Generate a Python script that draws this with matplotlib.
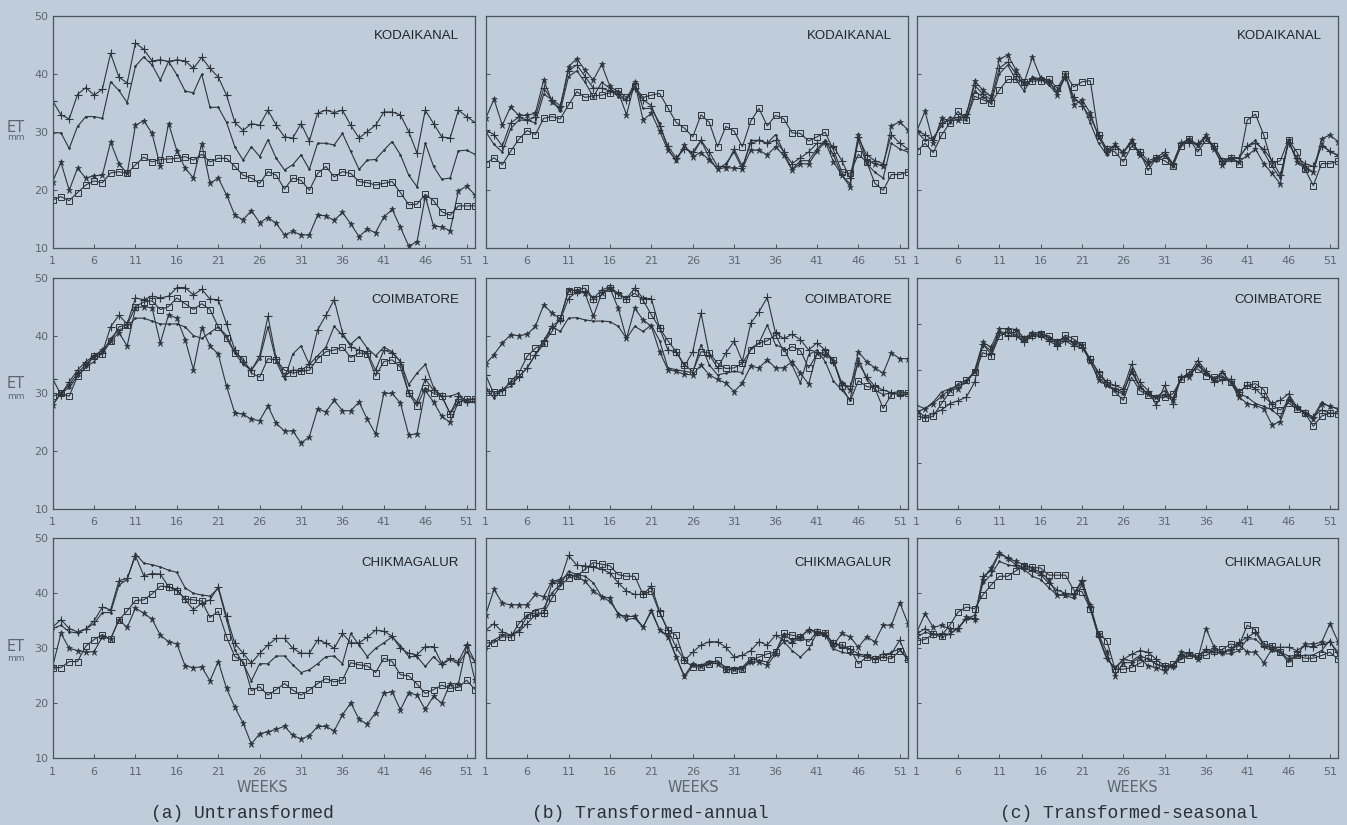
import numpy as np
import matplotlib
matplotlib.use("Agg")
import matplotlib.pyplot as plt

# weekly ET (mm)
weeks = np.arange(1, 53)
week_ticks = [1, 6, 11, 16, 21, 26, 31, 36, 41, 46, 51]

stations = ["KODAIKANAL", "COIMBATORE", "CHIKMAGALUR"]
captions = ["(a) Untransformed", "(b) Transformed-annual", "(c) Transformed-seasonal"]

# ---- Kodaikanal
KOD_A_PLUS = [35.3, 32.9, 32.2, 36.4, 37.6, 36.3, 37.3, 43.5, 39.4, 38.4, 45.3, 44.2, 42.2, 42.4, 42.1, 42.4, 42.2, 40.9, 42.8, 40.9, 39.4, 36.3, 31.6, 30.2, 31.4, 31.1, 33.7, 31.1, 29.1, 28.9, 31.4, 28.4, 33.2, 33.7, 33.3, 33.7, 31.1, 28.9, 30.0, 31.1, 33.4, 33.4, 32.9, 30.0, 26.3, 33.7, 31.4, 29.1, 28.9, 33.7, 32.6, 31.6]
KOD_A_PLAIN = [29.8, 29.8, 27.1, 30.9, 32.6, 32.6, 32.3, 38.6, 37.1, 35.0, 41.3, 42.9, 41.5, 38.9, 42.1, 39.8, 37.0, 36.7, 39.9, 34.2, 34.2, 31.6, 27.4, 25.1, 27.4, 25.7, 28.6, 25.4, 23.4, 24.3, 26.0, 23.5, 28.0, 28.0, 27.7, 29.7, 26.6, 23.5, 25.1, 25.2, 26.8, 28.3, 26.0, 22.5, 20.5, 28.0, 24.0, 21.8, 22.0, 26.7, 26.8, 26.1]
KOD_A_SQ = [18.2, 18.8, 18.1, 19.5, 20.8, 21.5, 21.2, 22.9, 23.1, 22.8, 24.3, 25.6, 24.8, 25.2, 25.3, 25.4, 25.7, 25.1, 26.1, 24.8, 25.4, 25.4, 24.0, 22.5, 22.0, 21.1, 23.1, 22.5, 20.1, 22.0, 21.6, 19.9, 22.8, 24.0, 22.2, 23.1, 22.8, 21.4, 21.2, 20.8, 21.1, 21.4, 19.5, 17.4, 17.5, 19.2, 18.1, 16.2, 15.6, 17.2, 17.2, 17.2]
KOD_A_AST = [21.4, 24.7, 19.9, 23.7, 22.0, 22.4, 22.5, 28.2, 24.5, 22.8, 31.1, 31.9, 29.7, 24.0, 31.4, 26.7, 23.7, 22.0, 27.9, 21.1, 22.0, 19.1, 15.6, 14.8, 16.4, 14.3, 15.2, 14.2, 12.2, 12.8, 12.2, 12.2, 15.6, 15.5, 14.7, 16.1, 14.1, 11.9, 13.2, 12.6, 15.3, 16.6, 13.5, 10.3, 11.0, 18.8, 13.7, 13.6, 12.9, 19.8, 20.6, 19.1]

KOD_B_PLUS = [30.3, 29.5, 27.5, 31.5, 32.5, 32.0, 32.5, 37.5, 35.5, 34.5, 40.5, 41.5, 39.5, 37.5, 37.5, 37.0, 36.5, 35.5, 37.5, 35.5, 34.5, 31.0, 27.5, 25.5, 27.0, 26.5, 28.5, 26.5, 24.0, 24.0, 27.0, 24.0, 28.0, 28.5, 28.0, 28.5, 26.5, 24.5, 25.5, 26.5, 28.0, 28.0, 27.5, 25.0, 22.0, 29.0, 26.0, 25.0, 24.5, 29.5, 28.0, 27.0]
KOD_B_PLAIN = [30.0, 27.8, 26.5, 30.5, 32.0, 32.0, 31.5, 36.5, 35.5, 33.5, 39.5, 40.5, 38.5, 36.0, 38.5, 37.5, 36.0, 35.5, 38.5, 34.0, 34.0, 31.5, 27.0, 25.0, 27.5, 26.0, 28.5, 25.5, 23.5, 24.5, 26.5, 23.5, 28.5, 28.5, 28.0, 29.5, 26.5, 23.5, 25.0, 25.0, 27.0, 28.5, 26.0, 22.5, 21.0, 28.5, 24.5, 23.0, 22.0, 28.0, 27.0, 26.5]
KOD_B_SQ = [24.5, 25.5, 24.3, 26.6, 28.7, 30.2, 29.5, 32.3, 32.6, 32.2, 34.6, 36.9, 35.9, 36.2, 36.3, 36.7, 37.0, 35.9, 37.8, 35.9, 36.3, 36.6, 34.1, 31.6, 30.6, 29.1, 32.9, 31.6, 27.4, 30.9, 30.1, 27.4, 31.8, 34.0, 31.0, 32.8, 32.2, 29.8, 29.7, 28.4, 29.1, 29.9, 26.8, 23.1, 22.8, 26.1, 24.8, 21.1, 19.9, 22.6, 22.6, 23.1]
KOD_B_AST = [32.3, 35.6, 31.1, 34.3, 32.8, 32.8, 33.2, 38.9, 35.2, 34.0, 41.2, 42.6, 40.6, 38.9, 41.6, 37.8, 36.9, 32.9, 38.5, 32.0, 33.2, 30.1, 26.8, 25.1, 27.7, 25.7, 26.4, 25.1, 23.6, 23.8, 23.7, 23.6, 26.8, 26.8, 26.0, 27.4, 25.9, 23.4, 24.5, 24.4, 26.6, 28.3, 24.8, 22.5, 20.5, 29.5, 25.0, 24.5, 24.0, 31.0, 31.7, 30.3]

KOD_C_PLUS = [30.1, 29.5, 28.5, 31.5, 32.0, 32.5, 33.0, 38.0, 36.5, 35.5, 41.0, 42.0, 40.0, 38.0, 39.0, 39.0, 38.5, 37.0, 39.5, 36.0, 34.5, 32.5, 29.5, 27.0, 27.5, 26.5, 28.0, 26.5, 25.0, 25.5, 26.5, 24.5, 28.0, 28.0, 28.0, 29.0, 27.5, 25.0, 25.5, 25.5, 27.5, 28.0, 27.0, 25.0, 22.5, 28.0, 25.5, 24.5, 24.0, 27.5, 26.7, 25.8]
KOD_C_PLAIN = [30.0, 28.5, 29.0, 31.0, 32.5, 32.0, 32.0, 37.0, 36.0, 35.0, 40.0, 41.5, 39.0, 37.0, 39.5, 39.0, 38.0, 36.5, 39.5, 35.5, 35.0, 31.5, 28.0, 26.0, 27.5, 26.5, 28.5, 26.0, 24.5, 25.0, 26.0, 24.5, 28.0, 28.5, 27.5, 29.0, 27.0, 24.5, 25.5, 25.5, 27.5, 28.5, 26.5, 24.0, 22.0, 28.5, 25.0, 24.0, 23.0, 28.0, 26.5, 26.0]
KOD_C_SQ = [26.6, 28.0, 26.4, 29.4, 31.5, 33.5, 32.0, 36.1, 35.5, 34.9, 37.2, 39.0, 39.0, 38.5, 38.7, 38.8, 39.0, 37.5, 39.9, 37.7, 38.6, 38.8, 29.4, 27.0, 26.5, 24.8, 27.5, 26.5, 23.3, 25.5, 25.0, 24.0, 27.5, 28.8, 26.5, 28.5, 27.5, 25.0, 25.5, 24.5, 32.0, 33.0, 29.4, 24.5, 25.0, 28.6, 26.5, 23.5, 20.7, 24.5, 24.5, 24.9]
KOD_C_AST = [30.1, 33.5, 28.0, 32.3, 31.9, 32.0, 32.8, 38.7, 37.2, 36.1, 42.5, 43.2, 40.7, 38.5, 42.8, 39.3, 38.8, 36.4, 39.9, 34.6, 35.5, 33.2, 29.1, 26.5, 27.8, 26.2, 28.6, 25.9, 24.5, 25.4, 25.9, 24.2, 28.0, 28.8, 27.7, 29.4, 27.0, 24.2, 25.4, 24.8, 25.9, 27.0, 24.5, 22.8, 21.0, 28.6, 24.8, 23.6, 23.0, 28.8, 29.4, 28.3]

# ---- Coimbatore
COI_A_PLUS = [32.5, 29.8, 32.0, 34.0, 35.5, 36.5, 37.0, 41.5, 43.5, 42.0, 46.5, 46.2, 46.8, 46.5, 46.8, 48.3, 48.3, 47.0, 48.0, 46.3, 46.2, 42.0, 37.5, 35.5, 34.0, 36.5, 43.3, 36.0, 33.0, 34.0, 34.0, 35.0, 41.0, 43.5, 46.2, 40.5, 38.0, 37.5, 37.0, 34.0, 37.5, 37.0, 35.5, 30.0, 28.5, 32.5, 30.5, 29.5, 26.5, 29.5, 28.5, 28.5]
COI_A_PLAIN = [28.0, 30.0, 31.0, 33.0, 34.5, 35.5, 37.0, 39.5, 41.0, 41.5, 43.0, 43.0, 42.5, 42.0, 42.0, 42.0, 41.5, 40.0, 39.5, 40.5, 41.5, 40.0, 37.0, 35.0, 34.0, 36.0, 41.5, 35.5, 32.5, 36.8, 38.2, 35.0, 36.5, 38.0, 41.6, 40.0, 38.5, 39.8, 37.8, 36.5, 38.0, 37.2, 35.5, 31.5, 33.5, 35.0, 31.0, 29.5, 29.5, 30.0, 28.5, 28.5]
COI_A_SQ = [29.5, 30.0, 29.5, 33.0, 34.5, 36.5, 36.8, 39.0, 41.5, 41.8, 45.0, 45.8, 46.0, 44.5, 45.0, 46.5, 45.5, 44.5, 45.5, 44.5, 41.5, 39.5, 37.0, 36.0, 33.5, 32.8, 36.0, 35.8, 34.0, 33.5, 33.8, 34.0, 36.0, 37.2, 37.5, 38.0, 36.2, 37.0, 36.8, 33.0, 35.5, 35.8, 34.5, 30.0, 27.8, 31.0, 30.0, 29.5, 26.5, 28.5, 29.0, 29.0]
COI_A_AST = [28.0, 30.0, 31.5, 33.5, 35.0, 36.5, 37.5, 39.0, 40.5, 38.2, 44.8, 45.0, 44.8, 38.7, 43.6, 43.0, 39.3, 34.1, 41.3, 38.2, 36.8, 31.2, 26.6, 26.4, 25.5, 25.3, 27.8, 24.8, 23.5, 23.5, 21.4, 22.5, 27.3, 26.8, 28.8, 27.0, 27.0, 28.5, 25.5, 23.0, 30.0, 30.0, 28.3, 22.8, 23.0, 30.5, 28.5, 26.0, 25.0, 28.5, 28.8, 29.0]

COI_B_PLUS = [33.2, 29.8, 30.6, 31.8, 32.9, 34.4, 36.7, 39.1, 41.6, 42.7, 46.4, 47.6, 47.6, 46.4, 47.9, 48.4, 47.3, 46.4, 48.2, 46.4, 46.4, 41.3, 37.5, 37.2, 34.7, 37.2, 43.9, 36.7, 34.4, 37.0, 39.0, 35.5, 42.1, 44.1, 46.6, 40.4, 39.5, 40.2, 39.3, 37.5, 38.7, 37.5, 35.5, 31.5, 31.2, 35.2, 32.9, 31.2, 30.6, 30.1, 29.8, 29.9]
COI_B_PLAIN = [30.9, 29.2, 30.6, 31.2, 32.9, 34.4, 36.7, 38.5, 41.6, 40.7, 43.0, 43.1, 42.7, 42.5, 42.5, 42.4, 41.6, 39.5, 41.6, 40.7, 41.8, 39.1, 34.4, 34.1, 33.8, 33.6, 38.4, 34.9, 33.2, 33.5, 33.8, 33.6, 37.8, 38.7, 41.8, 38.4, 37.8, 34.9, 31.8, 36.7, 37.5, 35.5, 32.1, 30.6, 28.9, 36.1, 32.4, 30.6, 29.8, 30.1, 30.3, 30.1]
COI_B_SQ = [30.3, 30.3, 30.3, 32.1, 33.5, 36.4, 37.8, 38.7, 40.7, 43.0, 47.7, 47.9, 48.2, 46.4, 47.0, 48.2, 47.0, 46.4, 47.3, 46.1, 43.6, 41.3, 39.1, 37.2, 34.9, 33.8, 37.2, 37.0, 35.2, 34.3, 34.4, 35.2, 37.5, 38.7, 39.1, 40.1, 37.2, 38.1, 37.4, 34.4, 36.7, 37.2, 35.8, 31.2, 28.6, 32.2, 31.2, 30.9, 27.4, 29.8, 30.1, 30.1]
COI_B_AST = [35.1, 36.7, 38.7, 40.1, 40.0, 40.2, 41.6, 45.3, 43.9, 42.9, 47.9, 47.7, 47.3, 43.3, 47.3, 48.2, 44.7, 39.5, 44.7, 42.7, 41.6, 37.2, 34.1, 33.8, 33.3, 33.2, 34.9, 33.2, 32.4, 31.8, 30.3, 31.8, 34.7, 34.4, 35.8, 34.4, 34.4, 35.5, 33.5, 31.6, 37.0, 36.7, 35.6, 31.8, 30.6, 37.2, 35.5, 34.4, 33.5, 37.0, 36.0, 36.0]

# panel (c) Coimbatore is drawn on a 0-50 axis
COI_C_PLUS = [21.4, 19.9, 20.7, 21.4, 22.8, 23.4, 24.2, 27.4, 35.6, 33.5, 38.1, 37.4, 37.4, 36.0, 37.4, 37.4, 36.3, 35.3, 36.3, 35.3, 34.8, 32.4, 29.6, 27.4, 26.7, 26.0, 31.3, 27.4, 25.6, 22.4, 26.7, 22.8, 28.5, 29.2, 32.1, 29.9, 27.4, 27.8, 28.1, 25.3, 26.7, 26.0, 24.2, 22.8, 23.5, 24.9, 22.1, 20.7, 19.9, 21.4, 20.7, 20.7]
COI_C_PLAIN = [22.4, 21.7, 23.1, 25.3, 26.0, 26.7, 27.4, 29.6, 35.6, 34.2, 38.3, 38.1, 37.6, 36.3, 37.7, 37.6, 37.0, 35.6, 37.0, 35.6, 35.3, 31.7, 28.5, 26.7, 25.6, 24.9, 30.3, 26.4, 24.9, 24.2, 25.6, 23.9, 28.5, 28.8, 31.3, 29.2, 28.1, 28.5, 27.4, 24.9, 24.2, 22.8, 22.2, 21.4, 19.9, 24.2, 21.7, 20.8, 19.9, 23.1, 22.1, 21.7]
COI_C_SQ = [20.1, 19.6, 20.1, 22.8, 25.3, 27.1, 27.8, 29.6, 33.8, 33.1, 37.4, 38.3, 38.1, 36.7, 37.7, 37.9, 37.4, 36.0, 37.6, 36.7, 35.5, 32.4, 29.2, 27.2, 25.3, 23.5, 28.5, 25.6, 24.6, 23.9, 24.2, 24.9, 28.1, 29.6, 30.3, 28.8, 28.5, 28.8, 27.4, 25.3, 26.7, 27.1, 25.8, 22.4, 21.4, 22.9, 21.7, 20.7, 17.9, 20.1, 20.7, 20.6]
COI_C_AST = [21.0, 21.7, 22.8, 24.4, 25.8, 26.0, 27.6, 29.9, 36.0, 35.0, 39.0, 39.0, 38.8, 37.0, 38.1, 38.1, 37.0, 36.3, 37.0, 36.0, 35.5, 32.1, 27.8, 26.7, 26.0, 25.3, 29.6, 26.4, 24.9, 24.2, 24.6, 23.5, 28.5, 28.5, 31.2, 29.6, 28.1, 29.6, 27.4, 24.2, 22.8, 22.4, 21.7, 18.2, 18.9, 23.6, 22.1, 20.7, 19.4, 22.8, 22.2, 21.7]

# ---- Chikmagalur
CHI_A_PLUS = [33.9, 35.2, 33.6, 33.0, 33.5, 35.0, 37.5, 37.0, 42.3, 42.7, 46.8, 43.2, 43.6, 43.5, 41.2, 40.6, 38.9, 37.0, 38.2, 38.8, 41.2, 35.8, 30.9, 29.1, 27.3, 29.1, 30.6, 31.8, 31.8, 30.0, 29.1, 29.1, 31.5, 31.0, 30.0, 32.7, 31.0, 31.0, 32.0, 33.3, 33.1, 32.2, 30.0, 29.1, 28.8, 30.3, 30.3, 27.2, 28.2, 27.6, 30.6, 27.6]
CHI_A_PLAIN = [33.6, 34.2, 33.0, 32.8, 33.5, 34.5, 36.5, 36.5, 41.5, 42.5, 47.2, 45.5, 45.2, 44.8, 44.2, 43.8, 41.0, 40.0, 39.7, 39.5, 40.9, 35.2, 29.7, 27.3, 24.1, 27.2, 27.2, 28.6, 28.6, 27.0, 25.6, 26.1, 27.2, 28.5, 28.6, 27.2, 32.7, 30.6, 28.5, 30.0, 31.0, 32.1, 30.5, 28.5, 28.5, 26.7, 28.5, 27.0, 28.0, 27.2, 29.4, 27.6]
CHI_A_SQ = [26.5, 26.5, 27.6, 27.6, 30.4, 31.6, 32.5, 31.7, 35.2, 36.8, 38.7, 38.8, 39.9, 41.3, 41.2, 40.5, 39.0, 38.8, 38.6, 35.6, 36.7, 32.1, 28.5, 27.6, 22.3, 23.0, 21.5, 22.5, 23.6, 22.4, 21.5, 22.4, 23.6, 24.5, 23.9, 24.2, 27.4, 27.0, 26.8, 25.6, 28.2, 27.6, 25.2, 25.0, 23.5, 21.8, 22.5, 23.3, 22.7, 22.9, 24.2, 22.5]
CHI_A_AST = [26.7, 32.7, 30.0, 29.6, 29.3, 29.4, 32.1, 31.7, 35.2, 33.8, 37.3, 36.4, 35.3, 32.4, 31.2, 30.8, 26.8, 26.5, 26.6, 24.1, 27.6, 22.7, 19.3, 16.4, 12.6, 14.5, 14.8, 15.3, 15.8, 14.2, 13.5, 14.1, 15.8, 15.8, 15.0, 17.9, 20.1, 17.1, 16.2, 18.3, 21.8, 22.1, 18.8, 21.9, 21.5, 18.9, 21.3, 20.0, 23.6, 23.5, 30.6, 24.2]

CHI_B_PLUS = [33.3, 34.5, 33.0, 32.4, 33.0, 34.5, 36.1, 36.4, 41.9, 42.2, 46.9, 45.1, 45.0, 44.7, 44.4, 43.7, 41.9, 40.4, 39.8, 39.8, 41.3, 36.7, 33.3, 30.2, 27.8, 29.3, 30.6, 31.2, 31.2, 30.2, 28.4, 28.7, 29.6, 31.2, 30.6, 32.4, 31.5, 30.9, 32.1, 33.4, 33.0, 32.4, 30.9, 30.2, 29.9, 29.0, 28.7, 28.1, 29.0, 29.0, 31.5, 27.8]
CHI_B_PLAIN = [29.9, 31.5, 32.4, 32.4, 33.3, 35.8, 37.0, 37.3, 40.1, 41.6, 44.0, 43.4, 43.1, 41.9, 39.4, 38.5, 36.4, 35.2, 35.5, 33.8, 37.0, 33.3, 32.4, 28.4, 24.7, 26.9, 26.9, 27.7, 27.5, 26.6, 26.3, 26.6, 28.1, 27.8, 27.5, 29.6, 31.2, 29.6, 28.4, 29.9, 32.8, 32.4, 29.9, 29.3, 29.0, 28.7, 28.4, 28.1, 28.4, 29.3, 29.9, 27.8]
CHI_B_SQ = [31.0, 31.0, 32.1, 32.0, 34.5, 36.1, 36.4, 36.4, 39.1, 41.3, 42.8, 43.1, 44.4, 45.6, 45.3, 45.0, 43.4, 43.1, 43.1, 39.8, 40.4, 36.4, 33.3, 32.4, 27.8, 26.6, 26.6, 27.2, 27.8, 26.3, 26.0, 26.3, 27.8, 28.4, 29.0, 29.3, 32.7, 32.4, 32.1, 31.2, 33.0, 32.7, 30.9, 30.6, 29.9, 27.2, 28.4, 28.1, 28.4, 28.1, 29.6, 28.1]
CHI_B_AST = [36.1, 40.7, 38.2, 37.9, 37.9, 37.9, 39.8, 39.4, 42.2, 42.5, 43.4, 43.1, 42.2, 40.4, 39.4, 39.1, 36.1, 35.8, 35.8, 33.9, 36.7, 33.3, 32.1, 28.4, 25.0, 27.2, 26.7, 27.3, 27.2, 26.0, 26.3, 26.3, 27.5, 27.5, 26.9, 29.0, 32.4, 31.5, 32.1, 33.3, 33.0, 32.7, 30.6, 32.7, 32.1, 30.2, 32.1, 31.2, 34.2, 34.2, 38.3, 34.5]

CHI_C_PLUS = [32.6, 33.6, 32.6, 32.6, 32.6, 33.7, 35.4, 35.4, 43.1, 44.1, 47.2, 46.4, 45.2, 44.6, 44.0, 43.4, 41.8, 40.6, 40.0, 39.8, 42.5, 37.5, 32.3, 28.3, 26.2, 28.0, 28.9, 29.6, 29.3, 28.0, 26.8, 26.8, 28.7, 29.3, 28.5, 29.9, 29.3, 29.3, 29.9, 31.1, 32.0, 32.9, 30.5, 30.2, 30.2, 30.2, 29.6, 30.5, 30.2, 30.8, 31.1, 29.3]
CHI_C_PLAIN = [32.0, 32.9, 32.6, 32.0, 32.6, 33.6, 35.4, 36.0, 41.8, 43.4, 45.8, 45.2, 44.9, 44.3, 43.1, 42.5, 41.0, 39.7, 39.6, 39.1, 41.5, 37.2, 32.0, 28.0, 26.5, 28.0, 27.7, 28.7, 28.0, 27.1, 26.5, 26.8, 28.3, 28.7, 28.3, 29.6, 29.3, 29.0, 29.0, 29.6, 31.7, 31.7, 30.2, 29.6, 29.3, 28.6, 28.7, 28.7, 28.8, 29.6, 31.4, 28.7]
CHI_C_SQ = [31.4, 31.6, 32.6, 32.3, 34.2, 36.6, 37.5, 37.2, 39.7, 41.5, 43.1, 43.1, 44.1, 44.9, 44.7, 44.6, 43.3, 43.3, 43.3, 40.6, 40.3, 37.2, 32.6, 31.4, 26.2, 26.2, 26.5, 27.3, 28.3, 27.1, 26.8, 27.1, 28.0, 28.7, 28.6, 28.7, 29.6, 29.8, 30.8, 30.5, 34.2, 33.3, 30.8, 30.5, 29.4, 27.4, 28.7, 28.2, 28.2, 28.7, 29.3, 28.0]
CHI_C_AST = [32.9, 36.3, 33.8, 34.2, 33.5, 33.5, 35.7, 35.4, 42.5, 44.6, 47.4, 46.4, 45.8, 45.2, 44.6, 43.7, 42.5, 39.7, 39.7, 39.7, 42.1, 37.9, 32.6, 29.3, 25.0, 27.4, 27.4, 28.3, 26.8, 26.5, 25.9, 26.8, 29.3, 29.0, 28.0, 33.6, 30.2, 29.3, 29.6, 30.8, 29.3, 29.3, 27.4, 29.9, 29.3, 28.0, 28.7, 30.8, 30.8, 31.1, 34.5, 31.2]

panels = [
    [(KOD_A_PLUS, KOD_A_PLAIN, KOD_A_SQ, KOD_A_AST),
     (KOD_B_PLUS, KOD_B_PLAIN, KOD_B_SQ, KOD_B_AST),
     (KOD_C_PLUS, KOD_C_PLAIN, KOD_C_SQ, KOD_C_AST)],
    [(COI_A_PLUS, COI_A_PLAIN, COI_A_SQ, COI_A_AST),
     (COI_B_PLUS, COI_B_PLAIN, COI_B_SQ, COI_B_AST),
     (COI_C_PLUS, COI_C_PLAIN, COI_C_SQ, COI_C_AST)],
    [(CHI_A_PLUS, CHI_A_PLAIN, CHI_A_SQ, CHI_A_AST),
     (CHI_B_PLUS, CHI_B_PLAIN, CHI_B_SQ, CHI_B_AST),
     (CHI_C_PLUS, CHI_C_PLAIN, CHI_C_SQ, CHI_C_AST)],
]

BG = "#bfcdda"
INK = "#2e343b"
GREY = "#5b6670"

series_styles = [
    dict(marker="+", ms=6, mew=0.8),
    dict(marker=".", ms=2.5),
    dict(marker="s", ms=4.2, mfc="none", mew=0.7),
    dict(marker="*", ms=5, mew=0.4),
]

lefts = [0.0391, 0.3606, 0.6806]
widths = [0.3135, 0.3135, 0.3128]
bottoms = [0.6998, 0.3830, 0.0808]
heights = [0.2812, 0.2804, 0.2667]
name_y = [0.912, 0.903, 0.889]
et_y = [(0.52, 0.477), (0.544, 0.486), (0.51, 0.456)]

fig = plt.figure(figsize=(13.47, 8.25), dpi=100, facecolor=BG)

for r in range(3):
    for c in range(3):
        ax = fig.add_axes([lefts[c], bottoms[r], widths[c], heights[r]])
        ax.set_facecolor(BG)
        for vals, st in zip(panels[r][c], series_styles):
            ax.plot(weeks, vals, color=INK, lw=0.8, mec=INK, mfc=st.get("mfc", INK),
                    marker=st["marker"], ms=st["ms"], mew=st.get("mew", 0.6))
        ax.set_xlim(1, 52)
        if r == 1 and c == 2:
            ax.set_ylim(0, 50)
            ax.set_yticks([10, 20, 30, 40])
        else:
            ax.set_ylim(10, 50)
            ax.set_yticks([10, 20, 30, 40, 50])
        ax.set_xticks(week_ticks)
        ax.tick_params(direction="in", length=3, width=0.7, color="#4a525a",
                       labelsize=8, labelcolor=GREY)
        ax.tick_params(axis="x", pad=6)
        ax.tick_params(axis="y", pad=3)
        if c != 0:
            ax.set_yticklabels([])
        for sp in ax.spines.values():
            sp.set_color("#4a525a")
            sp.set_linewidth(0.9)
        ax.text(0.962, name_y[r], stations[r], transform=ax.transAxes,
                ha="right", va="center", fontsize=9.5,
                color="#1f2328", family="Liberation Sans")
        if c == 0:
            ax.text(-0.087, et_y[r][0], "ET", transform=ax.transAxes,
                    ha="center", va="center", fontsize=10.5, color=GREY)
            ax.text(-0.087, et_y[r][1], "mm", transform=ax.transAxes,
                    ha="center", va="center", fontsize=6.5, color=GREY)

weeks_x = [262, 693, 1132]
caption_x = [242, 650, 1129]
for c in range(3):
    fig.text(weeks_x[c] / 1347, 1 - 788 / 825, "WEEKS", ha="center", va="center",
             fontsize=10.5, color=GREY)
    fig.text(caption_x[c] / 1347, 1 - 814 / 825, captions[c], ha="center", va="center",
             fontsize=13, color="#2a3038", family="Liberation Mono")

fig.savefig("out.png", dpi=100, facecolor=BG)
